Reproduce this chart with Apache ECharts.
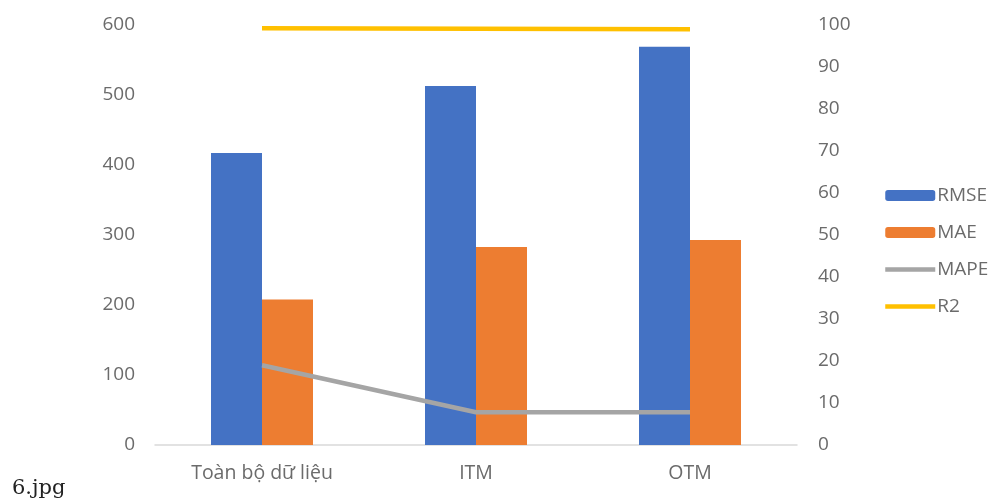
<!DOCTYPE html>
<html><head><meta charset="utf-8">
<script src="https://cdn.jsdelivr.net/npm/echarts@6/dist/echarts.min.js"></script>
<style>html,body{margin:0;padding:0;background:#fff}#c{width:995px;height:503px}</style>
</head><body><div id="c"></div>
<script>
const categories = ["Toàn bộ dữ liệu", "ITM", "OTM"];
const rmse = [417, 513, 569];
const mae = [208, 283, 293];
const mape = [19.0, 7.8, 7.8];
const r2 = [99.2, 99.1, 99.0];
const leftTicks = [0, 600, 100];
const rightTicks = [0, 100, 10];

const txt = '#6b6b6b';
const font = 'Open Sans';
const chart = echarts.init(document.getElementById('c'));
chart.setOption({
  animation: false,
  graphic: [{ type: 'text', x: 12, y: 478, style: { text: '6.jpg', fontFamily: 'DejaVu Serif', fontSize: 21, fill: '#222' } }],
  grid: { left: 155, right: 198, top: 25, bottom: 58 },
  legend: {
    orient: 'vertical', left: 878, top: 181, itemWidth: 50, itemHeight: 11, itemGap: 18,
    textStyle: { color: txt, fontSize: 19, fontFamily: font, padding: [0, 0, 0, -3] },
    data: [
      'RMSE', 'MAE',
      { name: 'MAPE', itemStyle: { opacity: 0 }, lineStyle: { width: 4.5, color: '#A5A5A5' } },
      { name: 'R2', itemStyle: { opacity: 0 }, lineStyle: { width: 4.5, color: '#FFC000' } }
    ]
  },
  xAxis: {
    type: 'category', data: categories,
    axisLine: { lineStyle: { color: '#d9d9d9', width: 1.5 } },
    axisTick: { show: false },
    axisLabel: { color: txt, fontSize: 19.5, fontFamily: font, margin: 18 }
  },
  yAxis: [
    { type: 'value', min: leftTicks[0], max: leftTicks[1], interval: leftTicks[2],
      axisLine: { show: false }, axisTick: { show: false }, splitLine: { show: false },
      axisLabel: { color: txt, fontSize: 19, fontFamily: font, margin: 20 } },
    { type: 'value', min: rightTicks[0], max: rightTicks[1], interval: rightTicks[2],
      axisLine: { show: false }, axisTick: { show: false }, splitLine: { show: false },
      axisLabel: { color: txt, fontSize: 19, fontFamily: font, margin: 21 } }
  ],
  series: [
    { name: 'RMSE', type: 'bar', data: rmse, barWidth: 51, barGap: '0%', itemStyle: { color: '#4472C4' } },
    { name: 'MAE', type: 'bar', data: mae, barWidth: 51, barGap: '0%', itemStyle: { color: '#ED7D31' } },
    { name: 'MAPE', type: 'line', yAxisIndex: 1, data: mape, symbol: 'none', lineStyle: { color: '#A5A5A5', width: 4.5 }, itemStyle: { color: '#A5A5A5' } },
    { name: 'R2', type: 'line', yAxisIndex: 1, data: r2, symbol: 'none', lineStyle: { color: '#FFC000', width: 4.5 }, itemStyle: { color: '#FFC000' } }
  ]
});
</script></body></html>
